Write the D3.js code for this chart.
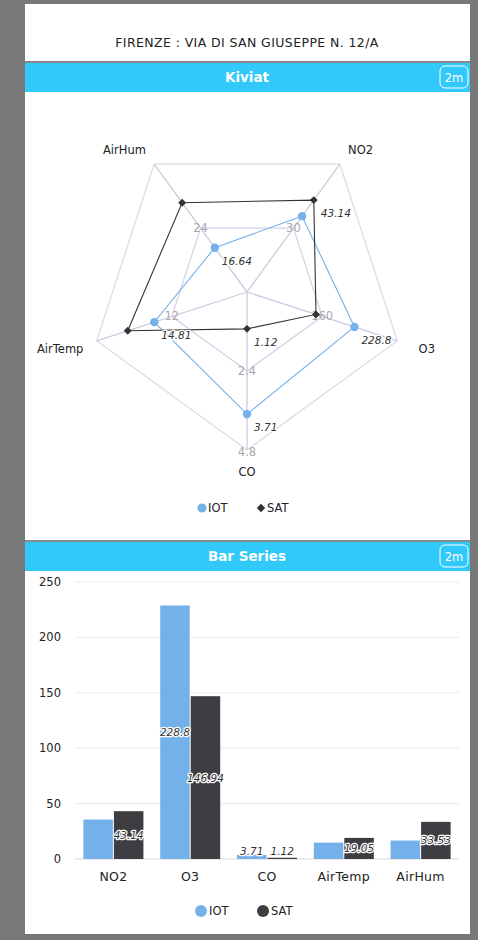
<!DOCTYPE html>
<html>
<head>
<meta charset="utf-8">
<script src="https://cdn.jsdelivr.net/npm/d3@7"></script>
<style>
  html, body { margin: 0; padding: 0; background: #787878; }
  svg { display: block; font-family: "DejaVu Sans", sans-serif; }
</style>
</head>
<body>
<svg id="page" width="478" height="940"></svg>
<script>
// dati
const categories = ["NO2", "O3", "CO", "AirTemp", "AirHum"];
const seriesNames = ["IOT", "SAT"];
const iotValues = [35.6, 228.8, 3.71, 14.81, 16.64];
const satValues = [43.14, 146.94, 1.12, 19.05, 33.53];
const radarMax = [60, 320, 4.8, 24, 48];
const radarInnerTicks = ["30", "160", "2.4", "12", "24"];
const radarOuterTicks = ["", "", "4.8", "", ""];
// etichette visibili (serie, indice)
const radarLabelsShown = [["SAT", 0], ["IOT", 1], ["IOT", 2], ["SAT", 2], ["IOT", 3], ["IOT", 4]];
const barLabelsShown = [["SAT", 0], ["IOT", 1], ["SAT", 1], ["IOT", 2], ["SAT", 2], ["SAT", 3], ["SAT", 4]];
const yTicks = [0, 50, 100, 150, 200, 250];

const colors = { IOT: "#74b1eb", SAT: "#3d3d42" };
const values = { IOT: iotValues, SAT: satValues };
const cyan = "#30c9f9";

const svg = d3.select("#page");

// card bianca
svg.append("rect").attr("x", 25).attr("y", 4).attr("width", 445).attr("height", 930).attr("fill", "#fff");

svg.append("text").attr("x", 247).attr("y", 47).attr("text-anchor", "middle")
  .attr("font-size", 12.5).attr("letter-spacing", 0.4).attr("fill", "#222").text("FIRENZE : VIA DI SAN GIUSEPPE N. 12/A");

// barre titolo
function titleBar(y0, title) {
  svg.append("rect").attr("x", 25).attr("y", y0 - 2).attr("width", 445).attr("height", 2).attr("fill", "#8a8a8a");
  svg.append("rect").attr("x", 25).attr("y", y0).attr("width", 445).attr("height", 29).attr("fill", cyan);
  svg.append("text").attr("x", 247).attr("y", y0 + 19).attr("text-anchor", "middle")
    .attr("font-size", 13.5).attr("font-weight", "bold").attr("fill", "#fff").text(title);
  svg.append("rect").attr("x", 440).attr("y", y0 + 3).attr("width", 28).attr("height", 22).attr("rx", 5)
    .attr("fill", "none").attr("stroke", "#fff").attr("stroke-width", 1);
  svg.append("text").attr("x", 454).attr("y", y0 + 18.5).attr("text-anchor", "middle")
    .attr("font-size", 11.5).attr("fill", "#fff").text("2m");
}
titleBar(63, "Kiviat");
titleBar(542, "Bar Series");

// etichetta con alone bianco
function haloText(g, x, y, txt, anchor) {
  g.append("text").attr("x", x).attr("y", y).attr("text-anchor", anchor || "start")
    .attr("font-size", 10.5).attr("font-style", "italic").attr("fill", "#333")
    .attr("stroke", "#fff").attr("stroke-width", 2.5).attr("paint-order", "stroke")
    .attr("stroke-linejoin", "round").text(txt);
}

// ---------- Kiviat ----------
const cx = 247, cy = 292, R = 158;
const angle = i => (-54 + 72 * i) * Math.PI / 180;
const rScales = radarMax.map(m => d3.scaleLinear().domain([0, m]).range([0, R]));
const pt = (i, r) => [cx + r * Math.cos(angle(i)), cy + r * Math.sin(angle(i))];

const radar = svg.append("g");
const line = d3.line().curve(d3.curveLinearClosed);

radar.append("path").attr("d", line(categories.map((c, i) => pt(i, R))))
  .attr("fill", "none").attr("stroke", "#dcdce6").attr("stroke-width", 1.3);
radar.append("path").attr("d", line(categories.map((c, i) => pt(i, R / 2))))
  .attr("fill", "none").attr("stroke", "#d2d2e8").attr("stroke-width", 1.3);
categories.forEach((c, i) => {
  const p = pt(i, R);
  radar.append("line").attr("x1", cx).attr("y1", cy).attr("x2", p[0]).attr("y2", p[1])
    .attr("stroke", "#cbcbe4").attr("stroke-width", 1.3);
});

// tick radiali
categories.forEach((c, i) => {
  const p = pt(i, R / 2);
  radar.append("text").attr("x", p[0]).attr("y", p[1] + 4).attr("text-anchor", "middle")
    .attr("font-size", 11.5).attr("fill", "#a8a8a8").text(radarInnerTicks[i]);
  if (radarOuterTicks[i]) {
    const q = pt(i, R);
    radar.append("text").attr("x", q[0]).attr("y", q[1] + 6).attr("text-anchor", "middle")
      .attr("font-size", 11.5).attr("fill", "#a8a8a8").text(radarOuterTicks[i]);
  }
});

// nomi assi
categories.forEach((c, i) => {
  const p = pt(i, R + 14);
  const cs = Math.cos(angle(i)), sn = Math.sin(angle(i));
  const anchor = cs > 0.1 ? "start" : cs < -0.1 ? "end" : "middle";
  let dy = 8;
  if (sn < -0.5) dy = 1;
  if (sn > 0.9) dy = 12;
  radar.append("text").attr("x", p[0] + (c === "O3" ? 8 : 0)).attr("y", p[1] + dy).attr("text-anchor", anchor)
    .attr("font-size", 11.5).attr("fill", "#222").text(c);
});

// serie
seriesNames.forEach(s => {
  const pts = values[s].map((v, i) => pt(i, rScales[i](v)));
  radar.append("path").attr("d", line(pts)).attr("fill", "none")
    .attr("stroke", s === "IOT" ? colors.IOT : "#333").attr("stroke-width", 1.1);
  pts.forEach(p => {
    if (s === "IOT") {
      radar.append("circle").attr("cx", p[0]).attr("cy", p[1]).attr("r", 4.2).attr("fill", colors.IOT);
    } else {
      radar.append("path").attr("transform", `translate(${p[0]},${p[1]})`)
        .attr("d", d3.symbol(d3.symbolDiamond2, 40)()).attr("fill", "#333");
    }
  });
});
radarLabelsShown.forEach(([s, i]) => {
  const p = pt(i, rScales[i](values[s][i]));
  haloText(radar, p[0] + 7, p[1] + 17, values[s][i]);
});

// legenda kiviat
radar.append("circle").attr("cx", 202).attr("cy", 508).attr("r", 4.5).attr("fill", colors.IOT);
radar.append("text").attr("x", 208).attr("y", 512).attr("font-size", 11.5).attr("fill", "#222").text("IOT");
radar.append("path").attr("transform", "translate(261,508)").attr("d", d3.symbol(d3.symbolDiamond2, 45)()).attr("fill", "#333");
radar.append("text").attr("x", 267).attr("y", 512).attr("font-size", 11.5).attr("fill", "#222").text("SAT");

// ---------- Bar Series ----------
const bars = svg.append("g");
const y = d3.scaleLinear().domain([0, 250]).range([859, 582]);
const x0 = d3.scaleBand().domain(categories).range([75, 459]);
const x1 = d3.scaleBand().domain(seriesNames).range([0, x0.bandwidth()]).paddingInner(0.033).paddingOuter(0.275);

yTicks.forEach(t => {
  bars.append("line").attr("x1", 75).attr("x2", 459).attr("y1", y(t)).attr("y2", y(t))
    .attr("stroke", t === 0 ? "#d8d8d8" : "#ebebeb").attr("stroke-width", 1);
  bars.append("text").attr("x", 61).attr("y", y(t) + 4).attr("text-anchor", "end")
    .attr("font-size", 11.5).attr("fill", "#222").text(t);
});

seriesNames.forEach(s => {
  bars.selectAll(null).data(categories).enter().append("rect")
    .attr("x", c => x0(c) + x1(s))
    .attr("width", x1.bandwidth())
    .attr("y", (c, i) => y(values[s][i]))
    .attr("height", (c, i) => y(0) - y(values[s][i]))
    .attr("fill", colors[s]);
});

barLabelsShown.forEach(([s, i]) => {
  const c = categories[i];
  const v = values[s][i];
  const mid = Math.min((y(v) + y(0)) / 2, y(0) - 8);
  haloText(bars, x0(c) + x1(s) + x1.bandwidth() / 2, mid + 4, v, "middle");
});

categories.forEach(c => {
  bars.append("text").attr("x", x0(c) + x0.bandwidth() / 2).attr("y", 881).attr("text-anchor", "middle")
    .attr("font-size", 12.5).attr("letter-spacing", 0.3).attr("fill", "#222").text(c);
});

// legenda barre
bars.append("circle").attr("cx", 201).attr("cy", 911).attr("r", 6).attr("fill", colors.IOT);
bars.append("text").attr("x", 209).attr("y", 915).attr("font-size", 11.5).attr("fill", "#222").text("IOT");
bars.append("circle").attr("cx", 263).attr("cy", 911).attr("r", 6).attr("fill", colors.SAT);
bars.append("text").attr("x", 271).attr("y", 915).attr("font-size", 11.5).attr("fill", "#222").text("SAT");
</script>
</body>
</html>
